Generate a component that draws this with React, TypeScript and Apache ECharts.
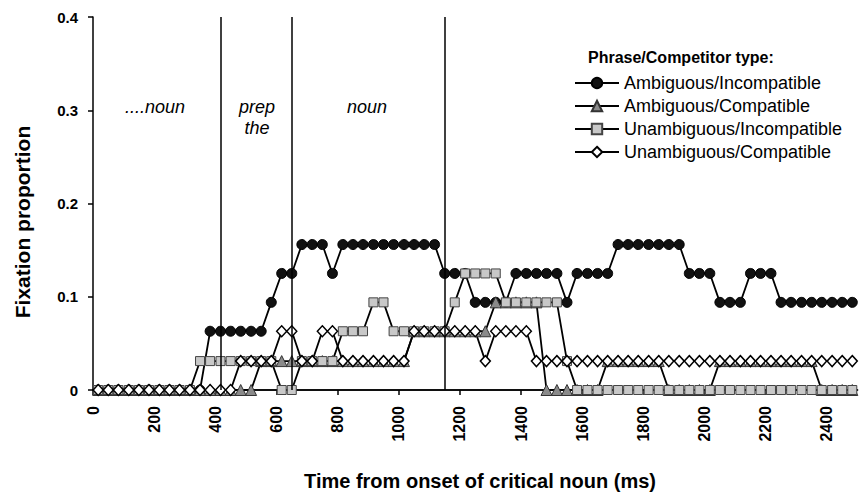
import React, { useEffect, useRef } from "react";
import * as echarts from "echarts";

// Time (ms) of each sample bin
const times = [
  17, 50, 83, 117, 150, 183, 217, 250, 283, 317, 350, 383, 417, 450, 483, 517, 550, 583, 617, 650,
  683, 717, 750, 783, 817, 850, 883, 917, 950, 983, 1017, 1050, 1083, 1117, 1150, 1183, 1217, 1250,
  1283, 1317, 1350, 1383, 1417, 1450, 1483, 1517, 1550, 1583, 1617, 1650, 1683, 1717, 1750, 1783,
  1817, 1850, 1883, 1917, 1950, 1983, 2017, 2050, 2083, 2117, 2150, 2183, 2217, 2250, 2283, 2317,
  2350, 2383, 2417, 2450, 2483,
];

const ambiguousIncompatible = [
  0, 0, 0, 0, 0, 0, 0, 0, 0, 0, 0,
  0.063, 0.063, 0.063, 0.063, 0.063, 0.063,
  0.094,
  0.125, 0.125,
  0.156, 0.156, 0.156,
  0.125,
  0.156, 0.156, 0.156, 0.156, 0.156, 0.156, 0.156, 0.156, 0.156, 0.156,
  0.125, 0.125, 0.125,
  0.094, 0.094, 0.094, 0.094,
  0.125, 0.125, 0.125, 0.125, 0.125,
  0.094,
  0.125, 0.125, 0.125, 0.125,
  0.156, 0.156, 0.156, 0.156, 0.156, 0.156, 0.156,
  0.125, 0.125, 0.125,
  0.094, 0.094, 0.094,
  0.125, 0.125, 0.125,
  0.094, 0.094, 0.094, 0.094, 0.094, 0.094, 0.094, 0.094,
];

const ambiguousCompatible = [
  0, 0, 0, 0, 0, 0, 0, 0, 0, 0, 0, 0, 0, 0, 0, 0,
  0.031, 0.031, 0.031, 0.031, 0.031, 0.031, 0.031, 0.031, 0.031, 0.031, 0.031, 0.031, 0.031, 0.031, 0.031,
  0.063, 0.063, 0.063, 0.063, 0.063, 0.063, 0.063, 0.063,
  0.094, 0.094, 0.094, 0.094, 0.094,
  0, 0, 0, 0, 0, 0,
  0.031, 0.031, 0.031, 0.031, 0.031, 0.031,
  0, 0, 0, 0, 0,
  0.031, 0.031, 0.031, 0.031, 0.031, 0.031, 0.031, 0.031, 0.031, 0.031,
  0, 0, 0, 0,
];

const unambiguousIncompatible = [
  0, 0, 0, 0, 0, 0, 0, 0, 0, 0,
  0.031, 0.031, 0.031, 0.031, 0.031, 0.031, 0.031, 0.031,
  0, 0,
  0.031, 0.031, 0.031, 0.031,
  0.063, 0.063, 0.063,
  0.094, 0.094,
  0.063, 0.063, 0.063, 0.063, 0.063, 0.063,
  0.094,
  0.125, 0.125, 0.125, 0.125,
  0.094, 0.094, 0.094, 0.094, 0.094, 0.094,
  0.031,
  0, 0, 0, 0, 0, 0, 0, 0, 0, 0, 0, 0, 0, 0, 0, 0, 0, 0, 0, 0, 0, 0, 0, 0, 0, 0, 0, 0,
];

const unambiguousCompatible = [
  0, 0, 0, 0, 0, 0, 0, 0, 0, 0, 0, 0, 0, 0,
  0.031, 0.031, 0.031, 0.031,
  0.063, 0.063,
  0.031, 0.031,
  0.063, 0.063,
  0.031, 0.031, 0.031, 0.031, 0.031, 0.031, 0.031,
  0.063, 0.063, 0.063, 0.063, 0.063, 0.063, 0.063,
  0.031,
  0.063, 0.063, 0.063, 0.063,
  0.031, 0.031, 0.031, 0.031, 0.031, 0.031, 0.031, 0.031, 0.031, 0.031, 0.031, 0.031, 0.031, 0.031,
  0.031, 0.031, 0.031, 0.031, 0.031, 0.031, 0.031, 0.031, 0.031, 0.031, 0.031, 0.031, 0.031, 0.031,
  0.031, 0.031, 0.031, 0.031,
];

const seriesNames = [
  "Ambiguous/Incompatible",
  "Ambiguous/Compatible",
  "Unambiguous/Incompatible",
  "Unambiguous/Compatible",
];

const regionBoundaries = [417, 650, 1150];

const FONT = "'Liberation Sans', Arial, Helvetica, sans-serif";

export default function App() {
  const ref = useRef<HTMLDivElement>(null);

  useEffect(() => {
    if (!ref.current) return;
    const chart = echarts.init(ref.current, null, { renderer: "svg" });
    const pair = (vals: number[]) => times.map((t, i) => [t, vals[i]]);

    const base = {
      type: "line",
      showAllSymbol: true,
      lineStyle: { color: "#000", width: 1.8 },
      emphasis: { disabled: true },
    };

    chart.setOption({
      animation: false,
      textStyle: { fontFamily: FONT },
      grid: { left: 93, top: 17, right: 2.5, bottom: 103, containLabel: false },
      legend: {
        orient: "vertical",
        left: 569,
        top: 69,
        itemWidth: 44,
        itemHeight: 13,
        itemGap: 5,
        selectedMode: false,
        textStyle: { fontFamily: FONT, fontSize: 18, color: "#000", lineHeight: 18 },
        data: seriesNames,
      },
      xAxis: [
        {
          type: "value",
          min: 0,
          max: 2500,
          interval: 200,
          position: "bottom",
          axisLine: { show: true, onZero: false, lineStyle: { color: "#000", width: 1.5 } },
          axisTick: { show: true, inside: false, length: 5, lineStyle: { color: "#000", width: 1.5 } },
          axisLabel: {
            rotate: 90,
            margin: 16,
            fontFamily: FONT,
            fontSize: 16,
            fontWeight: "bold",
            color: "#000",
            showMaxLabel: false,
            formatter: (v: number) => String(v),
          },
          splitLine: { show: false },
        },
        {
          type: "value",
          min: 0,
          max: 2500,
          position: "top",
          axisLine: { show: true, lineStyle: { color: "#000", width: 1.5 } },
          axisTick: { show: false },
          axisLabel: { show: false },
          splitLine: { show: false },
        },
      ],
      yAxis: {
        type: "value",
        min: 0,
        max: 0.4,
        interval: 0.1,
        axisLine: { show: true, lineStyle: { color: "#000", width: 1.5 } },
        axisTick: { show: true, inside: false, length: 5, lineStyle: { color: "#000", width: 1.5 } },
        axisLabel: {
          margin: 15,
          fontFamily: FONT,
          fontSize: 15,
          fontWeight: "bold",
          color: "#000",
          formatter: (v: number) => (v === 0 ? "0" : v.toFixed(1)),
        },
        splitLine: { show: false },
      },
      graphic: [
        {
          type: "text",
          x: 22,
          y: 222,
          rotation: Math.PI / 2,
          style: {
            text: "Fixation proportion",
            font: `bold 21px ${FONT}`,
            fill: "#000",
            align: "center",
            verticalAlign: "middle",
          },
        },
        {
          type: "text",
          x: 480,
          y: 481,
          style: {
            text: "Time from onset of critical noun (ms)",
            font: `bold 20px ${FONT}`,
            fill: "#000",
            align: "center",
            verticalAlign: "middle",
          },
        },
        {
          type: "text",
          left: 588,
          top: 49,
          style: {
            text: "Phrase/Competitor type:",
            font: `bold 16px ${FONT}`,
            fill: "#000",
          },
        },
        {
          type: "text",
          x: 155,
          y: 107,
          style: { text: "....noun", font: `italic 18px ${FONT}`, fill: "#000", align: "center", verticalAlign: "middle" },
        },
        {
          type: "text",
          x: 257,
          y: 107,
          style: { text: "prep", font: `italic 18px ${FONT}`, fill: "#000", align: "center", verticalAlign: "middle" },
        },
        {
          type: "text",
          x: 257,
          y: 128,
          style: { text: "the", font: `italic 18px ${FONT}`, fill: "#000", align: "center", verticalAlign: "middle" },
        },
        {
          type: "text",
          x: 367,
          y: 107,
          style: { text: "noun", font: `italic 18px ${FONT}`, fill: "#000", align: "center", verticalAlign: "middle" },
        },
      ],
      series: [
        {
          ...base,
          name: seriesNames[0],
          data: pair(ambiguousIncompatible),
          symbol: "circle",
          symbolSize: 10,
          itemStyle: { color: "#111", borderColor: "#000", borderWidth: 1 },
          markLine: {
            silent: true,
            symbol: ["none", "none"],
            label: { show: false },
            lineStyle: { color: "#000", width: 1.5, type: "solid" },
            data: regionBoundaries.map((x) => ({ xAxis: x })),
          },
        },
        {
          ...base,
          name: seriesNames[1],
          data: pair(ambiguousCompatible),
          symbol: "triangle",
          symbolSize: 11,
          itemStyle: { color: "#8a8a8a", borderColor: "#333", borderWidth: 1 },
        },
        {
          ...base,
          name: seriesNames[2],
          data: pair(unambiguousIncompatible),
          symbol: "rect",
          symbolSize: 9,
          itemStyle: { color: "#c8c8c8", borderColor: "#444", borderWidth: 1 },
        },
        {
          ...base,
          name: seriesNames[3],
          data: pair(unambiguousCompatible),
          symbol: "diamond",
          symbolSize: [10, 11],
          itemStyle: { color: "#fff", borderColor: "#000", borderWidth: 1.5 },
        },
      ],
    });

    return () => chart.dispose();
  }, []);

  return (
    <div
      ref={ref}
      style={{ position: "absolute", left: 0, top: 0, width: 860, height: 493 }}
    />
  );
}
